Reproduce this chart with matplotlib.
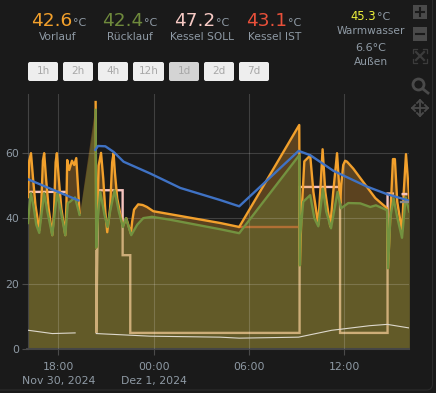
import numpy as np
import matplotlib
matplotlib.use("Agg")
import matplotlib.pyplot as plt
import matplotlib.patches as patches

# hours relative to Dez 1 00:00, temperatures in degC
vorlauf_h = [-7.92, -7.84, -7.73, -7.60, -7.45, -7.21, -7.10, -6.98, -6.90, -6.78, -6.62, -6.39, -6.28, -6.18,
             -6.10, -5.98, -5.82, -5.57, -5.50, -5.45, -5.32, -5.15, -5.01, -4.88, -4.67,
             -3.66, -3.62, -3.55, -3.47, -3.32, -3.18, -3.05, -2.93, -2.75, -2.62, -2.53, -2.45, -2.30, -2.10,
             -1.94, -1.73, -1.44, -1.36, -1.24, -0.98, -0.70, -0.43, -0.03, 4.19, 5.38, 9.16,
             9.20, 9.29, 9.48, 9.85, 10.05, 10.36, 10.48, 10.63, 10.80, 11.11, 11.30, 11.54, 11.74, 11.80, 11.93, 12.05, 12.17,
             12.56, 13.19, 13.95, 14.69, 14.75, 14.89, 15.06, 15.18, 15.33, 15.63, 15.74, 15.88, 16.09]
vorlauf_t = [46.4, 57.5, 59.8, 52, 44, 36.3, 42, 57.5, 59.8, 52, 43, 34.8, 42, 57,
             59.8, 52, 43, 34.8, 44, 57.7, 54.7, 57.5, 56.2, 58.3, 41.5,
             75.4, 31, 40, 56, 59.9, 52, 42, 35.7, 43, 57, 59.8, 54, 46, 41,
             37.6, 40, 35.3, 39, 42.6, 44.2, 44, 43.4, 42.1, 38.5, 37.3, 68.4,
             25.6, 40, 57.3, 59.1, 48, 38, 48, 61, 48, 37.5, 48, 59.8, 44.5, 50, 56.2, 57.5, 57.2,
             55.1, 51, 46.1, 43, 24.7, 40, 58, 58, 45, 36, 48, 59.5, 46]

ruecklauf_h = [-7.92, -7.80, -7.73, -7.55, -7.40, -7.21, -7.05, -6.90, -6.70, -6.39, -6.20, -6.07, -5.85, -5.57,
               -5.41, -5.27, -4.96, -4.67,
               -3.66, -3.62, -3.51, -3.37, -3.10, -2.91, -2.75, -2.47, -2.20, -1.94, -1.75, -1.42, -1.04, -0.66,
               -0.11, 1.04, 4.19, 5.38, 9.16,
               9.20, 9.23, 9.41, 9.85, 10.11, 10.36, 10.65, 10.86, 11.16, 11.57, 11.79, 12.25, 13.0, 13.63, 13.99,
               14.69, 14.75, 14.89, 15.10, 15.34, 15.63, 15.86, 16.09]
ruecklauf_t = [38.5, 45, 47.6, 43, 38, 35.5, 42, 47.6, 42, 34.8, 43, 47.6, 42, 34.8,
               44.6, 45, 46.3, 41,
               73, 31, 40.6, 48, 41, 37.3, 42, 48.5, 42, 37.3, 40, 34.8, 38, 40,
               40.4, 39.5, 36.6, 35.4, 59.2,
               25.6, 35, 45, 47, 40, 37.5, 49, 42, 36.9, 48, 43, 44.6, 44.5, 43.4, 43.9,
               42.4, 24.7, 40, 46, 40, 34, 46.3, 42]

warmwasser_h = [-7.90, -4.74, np.nan, -3.68, -3.51, -3.05, -2.53, -1.90, -0.22, 1.67, 4.19, 5.38, 9.12, 9.85,
                11.32, 13.43, 14.69, 16.09]
warmwasser_t = [51.8, 45.4, np.nan, 60.8, 62, 61.9, 60.2, 57.2, 53.6, 49.2, 45.5, 43.6, 60.5, 59.2,
                54.4, 49.6, 47.3, 45.3]

soll_h = [-7.92, -5.61, np.nan, -3.62, -3.62, -3.50, -1.96, -1.96, -1.48, -1.48, 9.18, 9.18, 11.73, 11.73,
          14.72, 14.72, 15.05, np.nan, 15.68, 15.90]
soll_t = [48, 48, np.nan, 30, 5, 48.5, 48.5, 28.7, 28.7, 5, 5, 49.5, 49.5, 5,
          5, 47.5, 47.5, np.nan, 47.3, 47.3]

ist_h = [5.38, 9.18, np.nan, 15.55, 16.05]
ist_t = [37.3, 37.3, np.nan, 44.9, 44.9]

aussen_h = [-7.90, -6.39, -4.95, np.nan, -3.62, -0.22, 4.19, 5.38, 9.12, 11.2, 11.73, 13.6, 14.7, 16.09]
aussen_t = [5.8, 4.8, 5.0, np.nan, 4.8, 4.0, 3.7, 3.4, 3.7, 5.8, 6.1, 7.2, 7.6, 6.5]

tick_h = [-6, 0, 6, 12]
tick_labels = ["18:00\nNov 30, 2024", "00:00\nDez 1, 2024", "06:00", "12:00"]
y_ticks = [0, 20, 40, 60]

headline = [("42.6", "Vorlauf", 72, 58, "#f2a02c"), ("42.4", "Rücklauf", 143, 130, "#6f8a3c"),
            ("47.2", "Kessel SOLL", 215, 202, "#f6c9c4"), ("43.1", "Kessel IST", 287, 275, "#e8503a")]
buttons = ["1h", "2h", "4h", "12h", "1d", "2d", "7d"]
button_left = [28, 63, 98, 133, 169, 204, 239]

BG = "#1a1a1a"
TXT = "#8f9aa5"
LW = 1.7

fig = plt.figure(figsize=(4.36, 3.93), dpi=100, facecolor=BG)
ax = fig.add_axes([27.5 / 436, 1 - 349.3 / 393, (409 - 27.5) / 436, (349.3 - 93.5) / 393])
ax.set_facecolor(BG)
ax.set_xlim(-7.95, 16.07)
ax.set_ylim(0, 78)

# red and pink sit under the fills so they come out brownish there
ax.plot(soll_h, soll_t, color="#f6c4bf", lw=LW, zorder=1, solid_joinstyle="miter")
ax.plot(ist_h[:2], ist_t[:2], color="#e8503a", lw=LW, alpha=0.8, zorder=1)
ax.plot(ist_h[3:], ist_t[3:], color="#8a8a8a", lw=LW, zorder=6)
ax.plot(soll_h[18:], soll_t[18:], color="#f6c4bf", lw=LW, zorder=6)

ax.fill_between(vorlauf_h, vorlauf_t, 0, color="#f2a02c", alpha=0.3, lw=0, zorder=2)
ax.fill_between(ruecklauf_h, ruecklauf_t, 0, color="#73923f", alpha=0.3, lw=0, zorder=2.1)

# the line leaves out the data gap, the fill does not
vor_h = np.array(vorlauf_h)
vor_t = np.array(vorlauf_t)
rue_h = np.array(ruecklauf_h)
rue_t = np.array(ruecklauf_t)
for h, t, c in [(vor_h, vor_t, "#f2a02c"), (rue_h, rue_t, "#73923f")]:
    ax.plot(h[h <= -4.6], t[h <= -4.6], color=c, lw=LW, zorder=3)
    ax.plot(h[h >= -3.7], t[h >= -3.7], color=c, lw=LW, zorder=3)

ax.plot(warmwasser_h, warmwasser_t, color="#3f72c4", lw=LW, zorder=4)
ax.plot(aussen_h, aussen_t, color="#ddd8cc", lw=0.8, zorder=5)

ax.grid(True, color="white", alpha=0.17, lw=0.8, zorder=2.5)
ax.set_axisbelow(False)
ax.set_xticks(tick_h)
ax.set_xticklabels(tick_labels, linespacing=1.5)
ax.set_yticks(y_ticks)
ax.tick_params(axis="both", colors="#4a4a4a", labelcolor=TXT, labelsize=7.8, length=4, width=0.8, pad=2)
ax.tick_params(axis="x", pad=5)
for name in ["top", "right"]:
    ax.spines[name].set_visible(False)
ax.spines["left"].set_color("#444444")
ax.spines["left"].set_linewidth(0.8)
ax.spines["bottom"].set_color("#444444")
ax.spines["bottom"].set_linewidth(1.5)

# header, buttons and toolbar in pixel coordinates
top = fig.add_axes([0, 0, 1, 1], facecolor="none", zorder=10)
top.set_xlim(0, 436)
top.set_ylim(393, 0)
top.axis("off")

top.add_patch(patches.FancyBboxPatch((-20, -20), 452.5, 410, boxstyle="round,pad=0,rounding_size=6",
                                     fc="none", ec="#2c2c2c", lw=0.8))

for value, label, right, xc, col in headline:
    top.text(right, 21, value, color=col, fontsize=13.3, ha="right", va="center")
    top.text(right + 1, 23, "°C", color=TXT, fontsize=8, ha="left", va="center")
    top.text(xc, 36.5, label, color=TXT, fontsize=7.7, ha="center", va="center")

top.text(376, 16.5, "45.3", color="#eef23a", fontsize=8.3, ha="right", va="center")
top.text(377, 17, "°C", color=TXT, fontsize=8, ha="left", va="center")
top.text(371, 31, "Warmwasser", color=TXT, fontsize=7.7, ha="center", va="center")
top.text(371, 48, "6.6°C", color=TXT, fontsize=8, ha="center", va="center")
top.text(371, 62, "Außen", color=TXT, fontsize=7.7, ha="center", va="center")

for name, left in zip(buttons, button_left):
    width = 31 if name == "12h" else 30
    face = "#d4d4d4" if name == "1d" else "#eeeeee"
    top.add_patch(patches.FancyBboxPatch((left + 1, 63), width - 2, 17, boxstyle="round,pad=1,rounding_size=2",
                                         fc=face, ec="none"))
    top.text(left + width / 2, 71.5, name, color="#a8a8a8", fontsize=7.5, ha="center", va="center")

# toolbar icons
ICON = "#4a4a4a"
top.add_patch(patches.Rectangle((413, 5), 14, 14, fc=ICON, ec="none"))
top.add_patch(patches.Rectangle((413, 27), 14, 14, fc=ICON, ec="none"))
top.plot([416, 424], [12, 12], color=BG, lw=1.5)
top.plot([420, 420], [8, 16], color=BG, lw=1.5)
top.plot([416, 424], [34, 34], color=BG, lw=1.5)
for cx, cy, dx, dy in [(412.5, 48.5, 1, 1), (427, 48.5, -1, 1), (412.5, 63, 1, -1), (427, 63, -1, -1)]:
    top.plot([cx + 4 * dx, cx, cx], [cy, cy, cy + 4 * dy], color="#3c3c3c", lw=0.9)
top.plot([416, 424], [52, 60], color="#3c3c3c", lw=1.6)
top.plot([424, 416], [52, 60], color="#3c3c3c", lw=1.6)
top.add_patch(patches.Circle((418.5, 84.5), 5.5, fc="none", ec=ICON, lw=2))
top.plot([423, 428], [89, 93], color=ICON, lw=2)
top.plot([412, 428], [108, 108], color=ICON, lw=1.3)
top.plot([420, 420], [100, 116], color=ICON, lw=1.3)
for x, y, dx, dy in [(412, 108, 3, 3), (428, 108, -3, 3), (420, 100, 3, 3), (420, 116, 3, -3)]:
    if x == 420:
        top.plot([x - dx, x, x + dx], [y + dy, y, y + dy], color=ICON, lw=1.3)
    else:
        top.plot([x + dx, x, x + dx], [y - dy, y, y + dy], color=ICON, lw=1.3)

fig.savefig("out.png", dpi=100, facecolor=BG)
